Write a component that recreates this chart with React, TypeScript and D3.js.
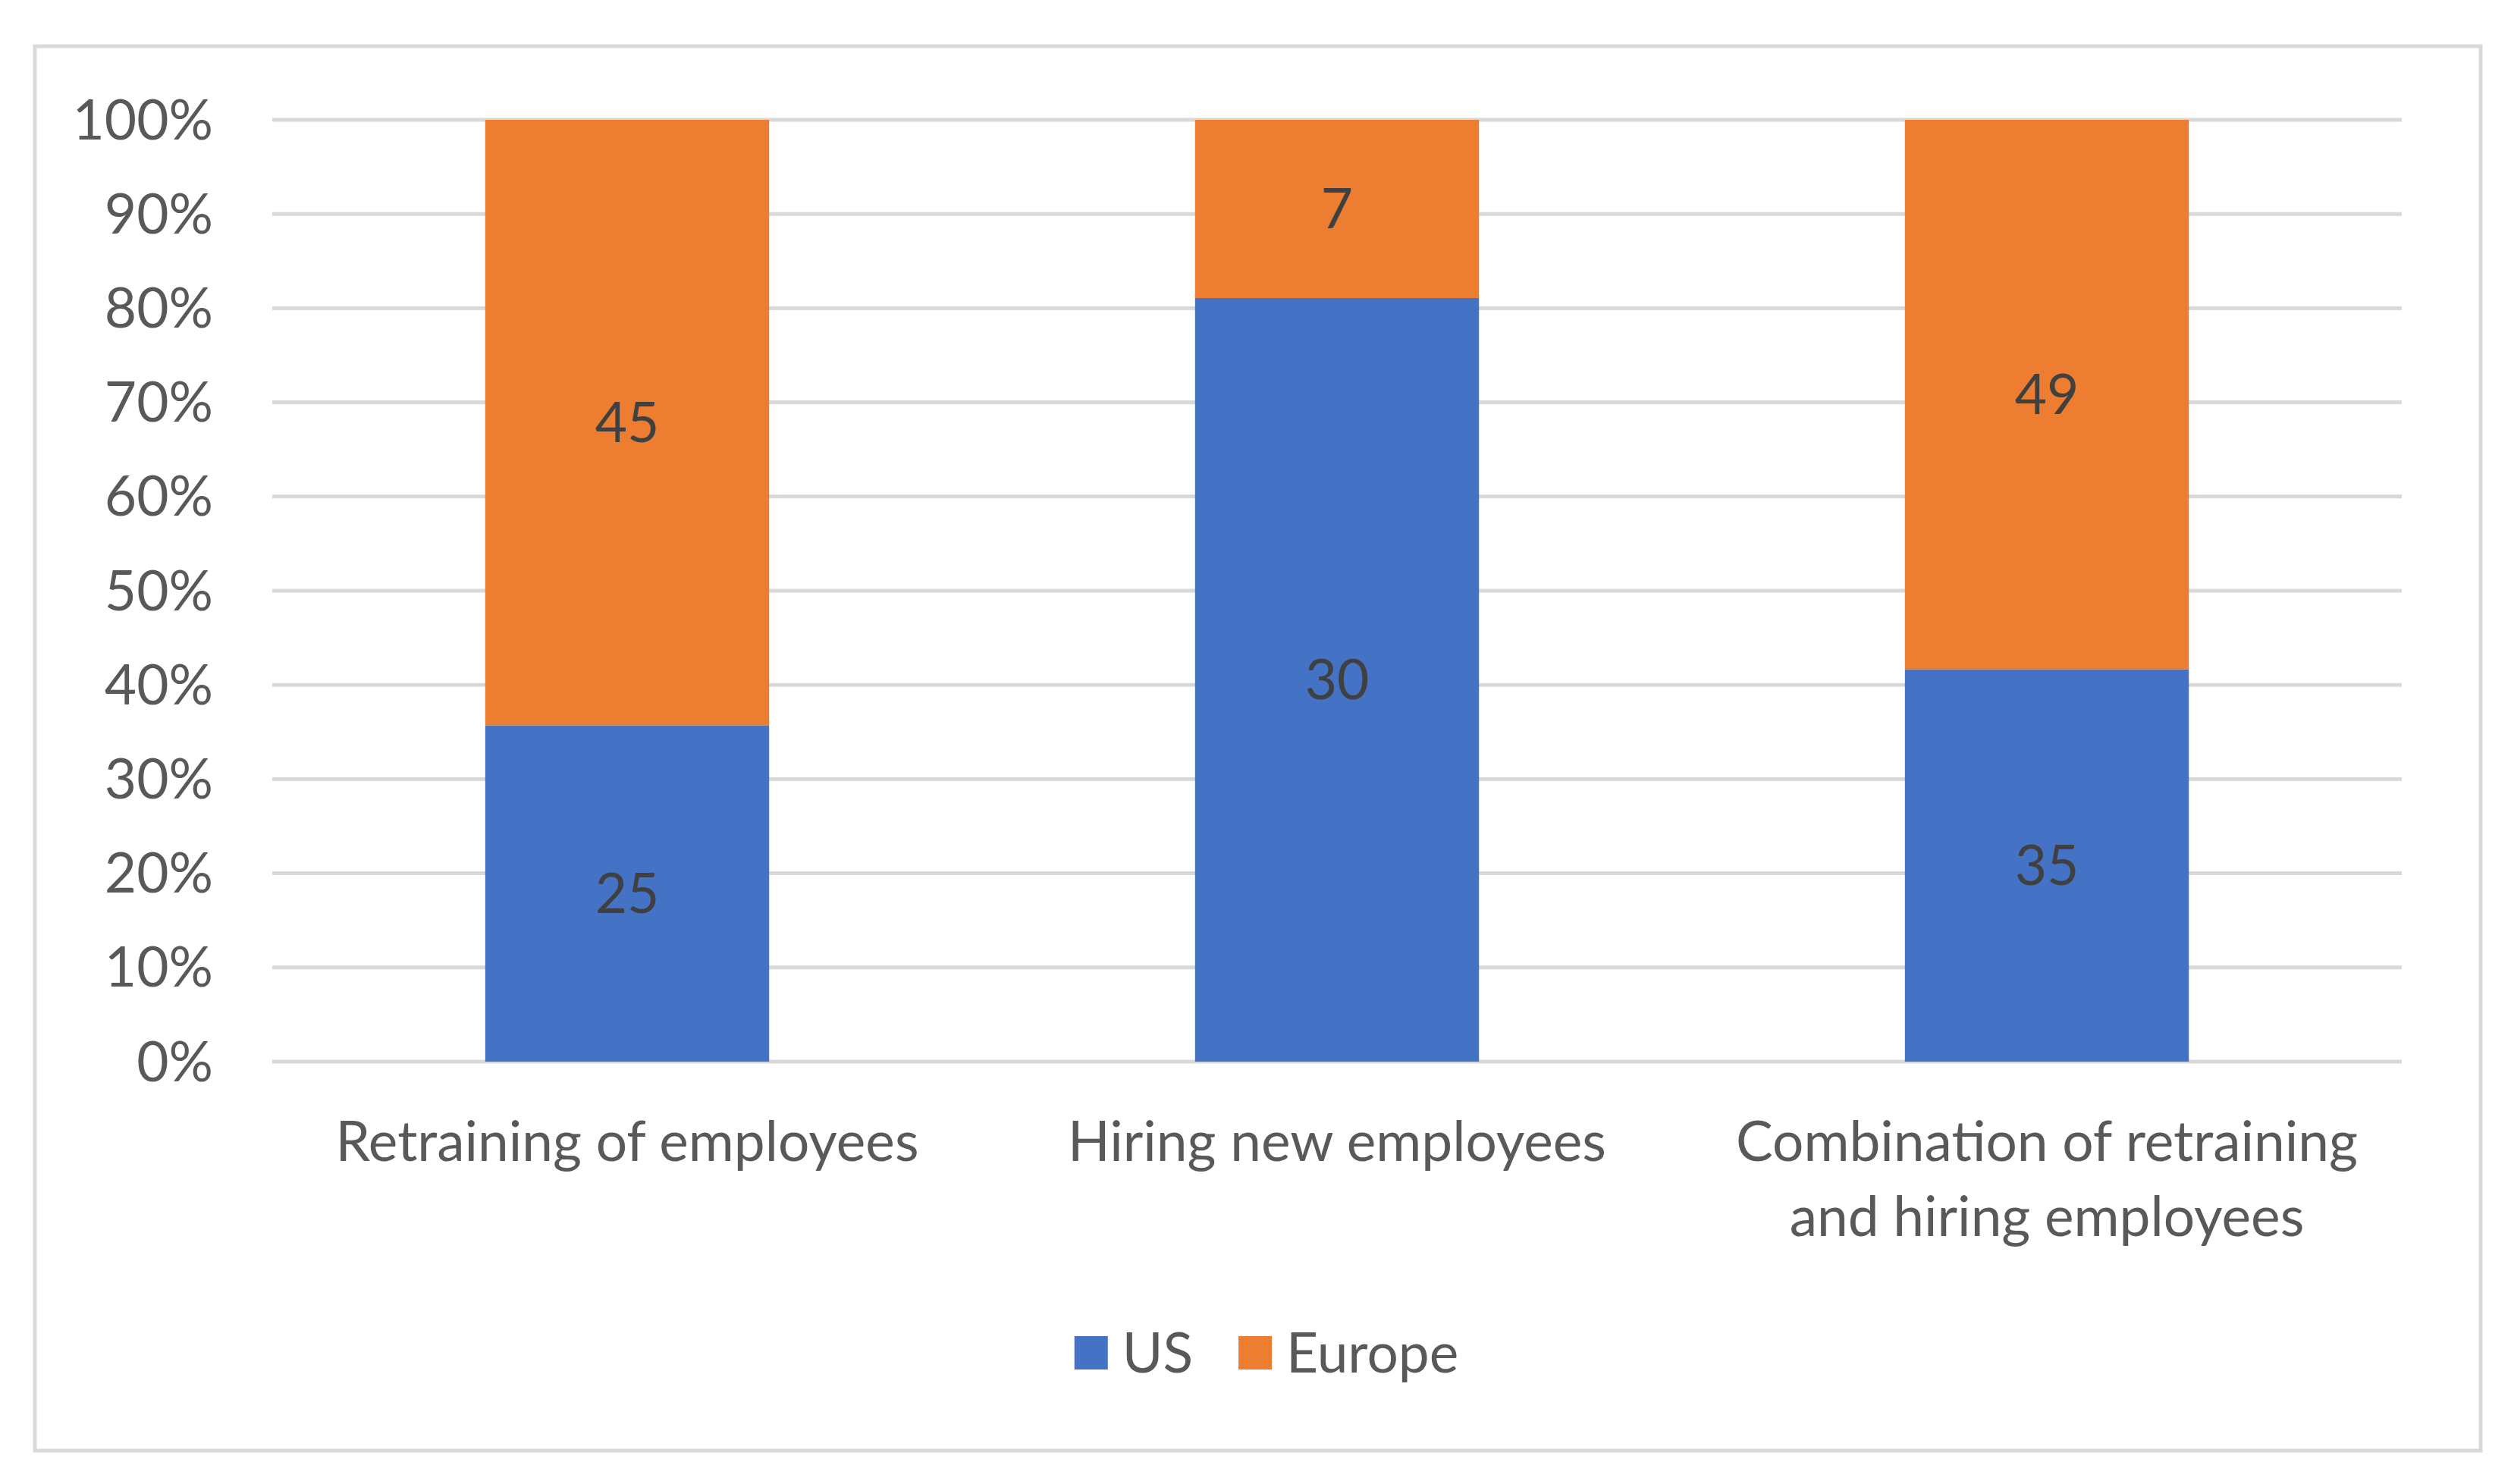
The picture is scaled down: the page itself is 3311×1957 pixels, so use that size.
import React, { useRef, useEffect } from 'react';
import * as d3 from 'd3';

const categories = [
    'Retraining of employees',
    'Hiring new employees',
    'Combination of retraining and hiring employees',
];
const seriesNames = ['US', 'Europe'];
const usValues = [25, 30, 35];
const europeValues = [45, 7, 49];
const yTicks = [0, 0.1, 0.2, 0.3, 0.4, 0.5, 0.6, 0.7, 0.8, 0.9, 1];

const colors = ['#4472C4', '#ED7D31'];

function App(): React.ReactElement {
    const ref = useRef<SVGSVGElement | null>(null);

    useEffect(() => {
        if (!ref.current) return;
        const svg = d3.select(ref.current);
        svg.selectAll('*').remove();

        const width = 3311;
        const height = 1957;
        const margin = { top: 158, right: 144, bottom: 557, left: 359 };
        const fontFamily = 'Lato, "Open Sans", sans-serif';
        const fontSize = 73;

        svg.append('rect').attr('width', width).attr('height', height).attr('fill', '#fff');

        // chart area frame
        svg.append('rect')
            .attr('x', 46)
            .attr('y', 61)
            .attr('width', 3225)
            .attr('height', 1852)
            .attr('fill', '#fff')
            .attr('stroke', '#D9D9D9')
            .attr('stroke-width', 5);

        const rows = categories.map((c, i) => ({ category: c, US: usValues[i], Europe: europeValues[i] }));
        const stack = d3.stack<any>().keys(seriesNames).offset(d3.stackOffsetExpand);
        const series = stack(rows);

        const x = d3
            .scaleBand()
            .domain(categories)
            .range([margin.left, width - margin.right])
            .paddingInner(0.6)
            .paddingOuter(0.3);

        const y = d3
            .scaleLinear()
            .domain([0, 1])
            .range([height - margin.bottom, margin.top]);

        // gridlines
        svg.append('g')
            .selectAll('line')
            .data(yTicks)
            .join('line')
            .attr('x1', margin.left)
            .attr('x2', width - margin.right)
            .attr('y1', d => y(d))
            .attr('y2', d => y(d))
            .attr('stroke', '#D9D9D9')
            .attr('stroke-width', 5);

        // y labels
        svg.append('g')
            .selectAll('text')
            .data(yTicks)
            .join('text')
            .attr('x', 281)
            .attr('y', d => y(d))
            .attr('dy', '0.35em')
            .attr('text-anchor', 'end')
            .attr('fill', '#595959')
            .style('font-family', fontFamily)
            .style('font-size', `${fontSize}px`)
            .text(d => d3.format('.0%')(d));

        // bars
        const layers = svg.append('g')
            .selectAll('g')
            .data(series)
            .join('g')
            .attr('fill', (_, i) => colors[i]);

        layers.selectAll('rect')
            .data(d => d)
            .join('rect')
            .attr('x', d => x(d.data.category)!)
            .attr('width', x.bandwidth())
            .attr('y', d => y(d[1]))
            .attr('height', d => y(d[0]) - y(d[1]));

        // data labels
        layers.selectAll('text')
            .data(d => d.map(p => ({ p, key: d.key })))
            .join('text')
            .attr('x', d => x(d.p.data.category)! + x.bandwidth() / 2)
            .attr('y', d => y((d.p[0] + d.p[1]) / 2))
            .attr('dy', '0.35em')
            .attr('text-anchor', 'middle')
            .attr('fill', '#404040')
            .style('font-family', fontFamily)
            .style('font-size', `${fontSize}px`)
            .text(d => String(d.p.data[d.key]));

        // x labels, wrapped to the band
        const xLabels = svg.append('g');
        categories.forEach(c => {
            const t = xLabels.append('text')
                .attr('text-anchor', 'middle')
                .attr('fill', '#595959')
                .style('font-family', fontFamily)
                .style('font-size', `${fontSize}px`);
            const words = c.split(' ');
            const lines: string[] = [];
            let cur = '';
            words.forEach(w => {
                const test = cur ? `${cur} ${w}` : w;
                t.text(test);
                if ((t.node() as SVGTextElement).getComputedTextLength() > 880 && cur) {
                    lines.push(cur);
                    cur = w;
                } else {
                    cur = test;
                }
            });
            lines.push(cur);
            t.text(null);
            lines.forEach((l, i) => {
                t.append('tspan')
                    .attr('x', x(c)! + x.bandwidth() / 2)
                    .attr('y', 1531 + i * 99)
                    .text(l);
            });
        });

        // legend
        const legend = svg.append('g');
        const sq = 44;
        let lx = 0;
        seriesNames.forEach((s, i) => {
            const g = legend.append('g').attr('transform', `translate(${lx},0)`);
            g.append('rect')
                .attr('x', 0)
                .attr('y', -sq / 2)
                .attr('width', sq)
                .attr('height', sq)
                .attr('fill', colors[i]);
            const t = g.append('text')
                .attr('x', sq + 19)
                .attr('dy', '0.35em')
                .attr('fill', '#595959')
                .style('font-family', fontFamily)
                .style('font-size', `${fontSize}px`)
                .text(s);
            lx += sq + 19 + (t.node() as SVGTextElement).getComputedTextLength() + 60;
        });
        const legendWidth = lx - 60;
        legend.attr('transform', `translate(${1670 - legendWidth / 2},1784)`);
    }, []);

    return (
        <svg
            ref={ref}
            width={3311}
            height={1957}
            style={{ position: 'absolute', left: 0, top: 0, display: 'block' }}
        />
    );
}

export default App;
